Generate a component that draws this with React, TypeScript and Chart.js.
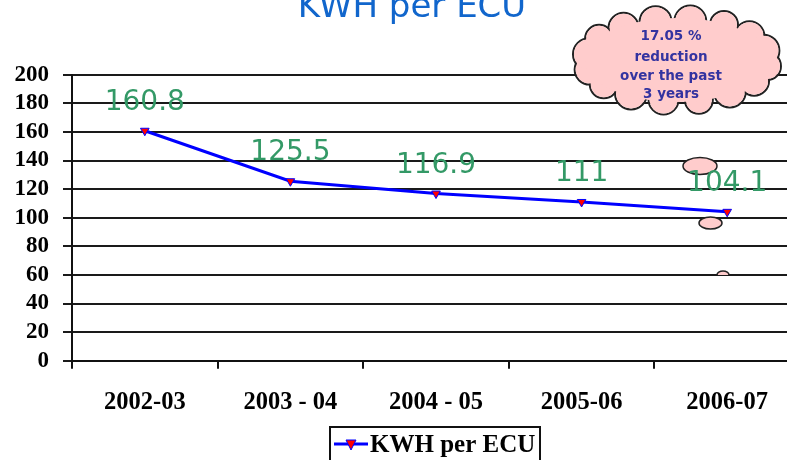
import React, { useEffect, useRef } from "react";
import { Chart, registerables } from "chart.js";

Chart.register(...registerables);

const categories = ["2002-03", "2003 - 04", "2004 - 05", "2005-06", "2006-07"];
const kwhPerEcu = [160.8, 125.5, 116.9, 111, 104.1];
const seriesName = "KWH per ECU";
const chartTitle = "KWH per ECU";
const calloutLines = ["17.05 %", "reduction", "over the past", "3 years"];
const yMin = 0;
const yMax = 200;
const yStep = 20;

const bubblesPlugin = {
  id: "bubbles",
  beforeDatasetsDraw(chart: any) {
    const ctx = chart.ctx;
    ctx.save();
    const ell = (cx: number, cy: number, rx: number, ry: number, half = false) => {
      ctx.beginPath();
      if (half) ctx.ellipse(cx, cy, rx, ry, 0, Math.PI, 2 * Math.PI);
      else ctx.ellipse(cx, cy, rx, ry, 0, 0, 2 * Math.PI);
      ctx.fillStyle = "#ffcccc";
      ctx.fill();
      ctx.lineWidth = 1.5;
      ctx.strokeStyle = "#222";
      ctx.stroke();
    };
    ell(700, 166, 17, 8.5);
    ell(710.5, 223, 11.5, 6);
    ell(723, 275, 6, 4, true);
    ctx.restore();
  },
};

const labelsPlugin = {
  id: "valueLabels",
  afterDatasetsDraw(chart: any) {
    const ctx = chart.ctx;
    const meta = chart.getDatasetMeta(0);
    const data = chart.data.datasets[0].data;
    ctx.save();
    ctx.font = "28px 'DejaVu Sans'";
    ctx.fillStyle = "#339966";
    ctx.textAlign = "center";
    ctx.textBaseline = "alphabetic";
    meta.data.forEach((pt: any, i: number) => {
      ctx.fillText(String(data[i]), pt.x, pt.y - 21);
    });
    ctx.restore();
  },
};

const decorPlugin = {
  id: "decor",
  afterDraw(chart: any) {
    const ctx = chart.ctx;
    ctx.save();
    // title
    ctx.font = "34px 'DejaVu Sans'";
    ctx.fillStyle = "#1166cc";
    ctx.textAlign = "center";
    ctx.textBaseline = "alphabetic";
    ctx.fillText(chartTitle, 412, 17);

    // cloud callout
    const cx = 677;
    const cy = 60;
    const n = 16;
    const bumps: [number, number, number][] = [];
    for (let i = 0; i < n; i++) {
      const a = (i * 2 * Math.PI) / n - Math.PI / 2 + 0.15;
      const r = i % 3 === 0 ? 16 : i % 3 === 1 ? 14 : 15;
      bumps.push([cx + (105 - r) * Math.cos(a), cy + (55 - r) * Math.sin(a), r]);
    }
    ctx.lineWidth = 2;
    ctx.strokeStyle = "#222";
    bumps.forEach(([x, y, r]) => {
      ctx.beginPath();
      ctx.arc(x, y, r, 0, 2 * Math.PI);
      ctx.stroke();
    });
    ctx.fillStyle = "#ffcccc";
    bumps.forEach(([x, y, r]) => {
      ctx.beginPath();
      ctx.arc(x, y, r - 1, 0, 2 * Math.PI);
      ctx.fill();
    });
    ctx.beginPath();
    ctx.ellipse(cx, cy, 92, 42, 0, 0, 2 * Math.PI);
    ctx.fill();

    ctx.font = "bold 13.5px 'DejaVu Sans'";
    ctx.fillStyle = "#3333a0";
    ctx.textAlign = "center";
    ctx.textBaseline = "middle";
    const ys = [36, 57, 76, 94];
    calloutLines.forEach((t, i) => ctx.fillText(t, 671, ys[i]));

    // legend
    ctx.lineWidth = 2;
    ctx.strokeStyle = "#111";
    ctx.strokeRect(330, 427, 210, 40);
    ctx.beginPath();
    ctx.moveTo(334, 444);
    ctx.lineTo(368, 444);
    ctx.strokeStyle = "#0000ff";
    ctx.lineWidth = 3;
    ctx.stroke();
    ctx.beginPath();
    ctx.moveTo(346, 440);
    ctx.lineTo(356, 440);
    ctx.lineTo(351, 450);
    ctx.closePath();
    ctx.fillStyle = "red";
    ctx.fill();
    ctx.lineWidth = 1;
    ctx.strokeStyle = "#0000ff";
    ctx.stroke();
    ctx.font = "bold 25px 'Liberation Serif'";
    ctx.fillStyle = "#000";
    ctx.textAlign = "left";
    ctx.textBaseline = "alphabetic";
    ctx.fillText(seriesName, 370, 452);
    ctx.restore();
  },
};

export default function App() {
  const ref = useRef<HTMLCanvasElement>(null);
  useEffect(() => {
    if (!ref.current) return;
    const chart = new Chart(ref.current, {
      type: "line",
      data: {
        labels: categories,
        datasets: [
          {
            label: seriesName,
            data: kwhPerEcu,
            borderColor: "#0000ff",
            borderWidth: 3,
            tension: 0,
            pointStyle: "triangle",
            pointRotation: 180,
            pointRadius: 5,
            pointBackgroundColor: "red",
            pointBorderColor: "#0000ff",
            pointBorderWidth: 1,
          },
        ],
      },
      options: {
        responsive: false,
        animation: false,
        layout: { padding: { top: 74.7, right: 20, left: 0, bottom: 0 } },
        plugins: { legend: { display: false }, title: { display: false }, tooltip: { enabled: false } },
        scales: {
          x: {
            type: "category",
            offset: true,
            afterFit: (s: any) => {
              s.height = 99.3;
            },
            grid: {
              offset: true,
              drawOnChartArea: false,
              drawTicks: true,
              tickLength: 8,
              color: "#111",
              lineWidth: 2,
            },
            border: { display: true, color: "#111", width: 2 },
            ticks: {
              color: "#000",
              padding: 19,
              maxRotation: 0,
              autoSkip: false,
              font: { family: "'Liberation Serif'", size: 24.5, weight: "bold" },
            },
          },
          y: {
            min: yMin,
            max: yMax,
            afterFit: (s: any) => {
              s.width = 72;
            },
            grid: {
              color: "#1a1a1a",
              lineWidth: 2,
              drawTicks: true,
              tickLength: 9,
            },
            border: { display: true, color: "#111", width: 2 },
            ticks: {
              stepSize: yStep,
              autoSkip: false,
              color: "#000",
              padding: 14,
              font: { family: "'Liberation Serif'", size: 23, weight: "bold" },
            },
          },
        },
      },
      plugins: [bubblesPlugin, labelsPlugin, decorPlugin],
    });
    return () => chart.destroy();
  }, []);
  return (
    <div
      style={{
        position: "absolute",
        left: 0,
        top: 0,
        width: 787,
        height: 460,
        overflow: "hidden",
        background: "#fff",
      }}
    >
      <canvas ref={ref} width={820} height={460} style={{ width: 820, height: 460, display: "block" }} />
    </div>
  );
}
